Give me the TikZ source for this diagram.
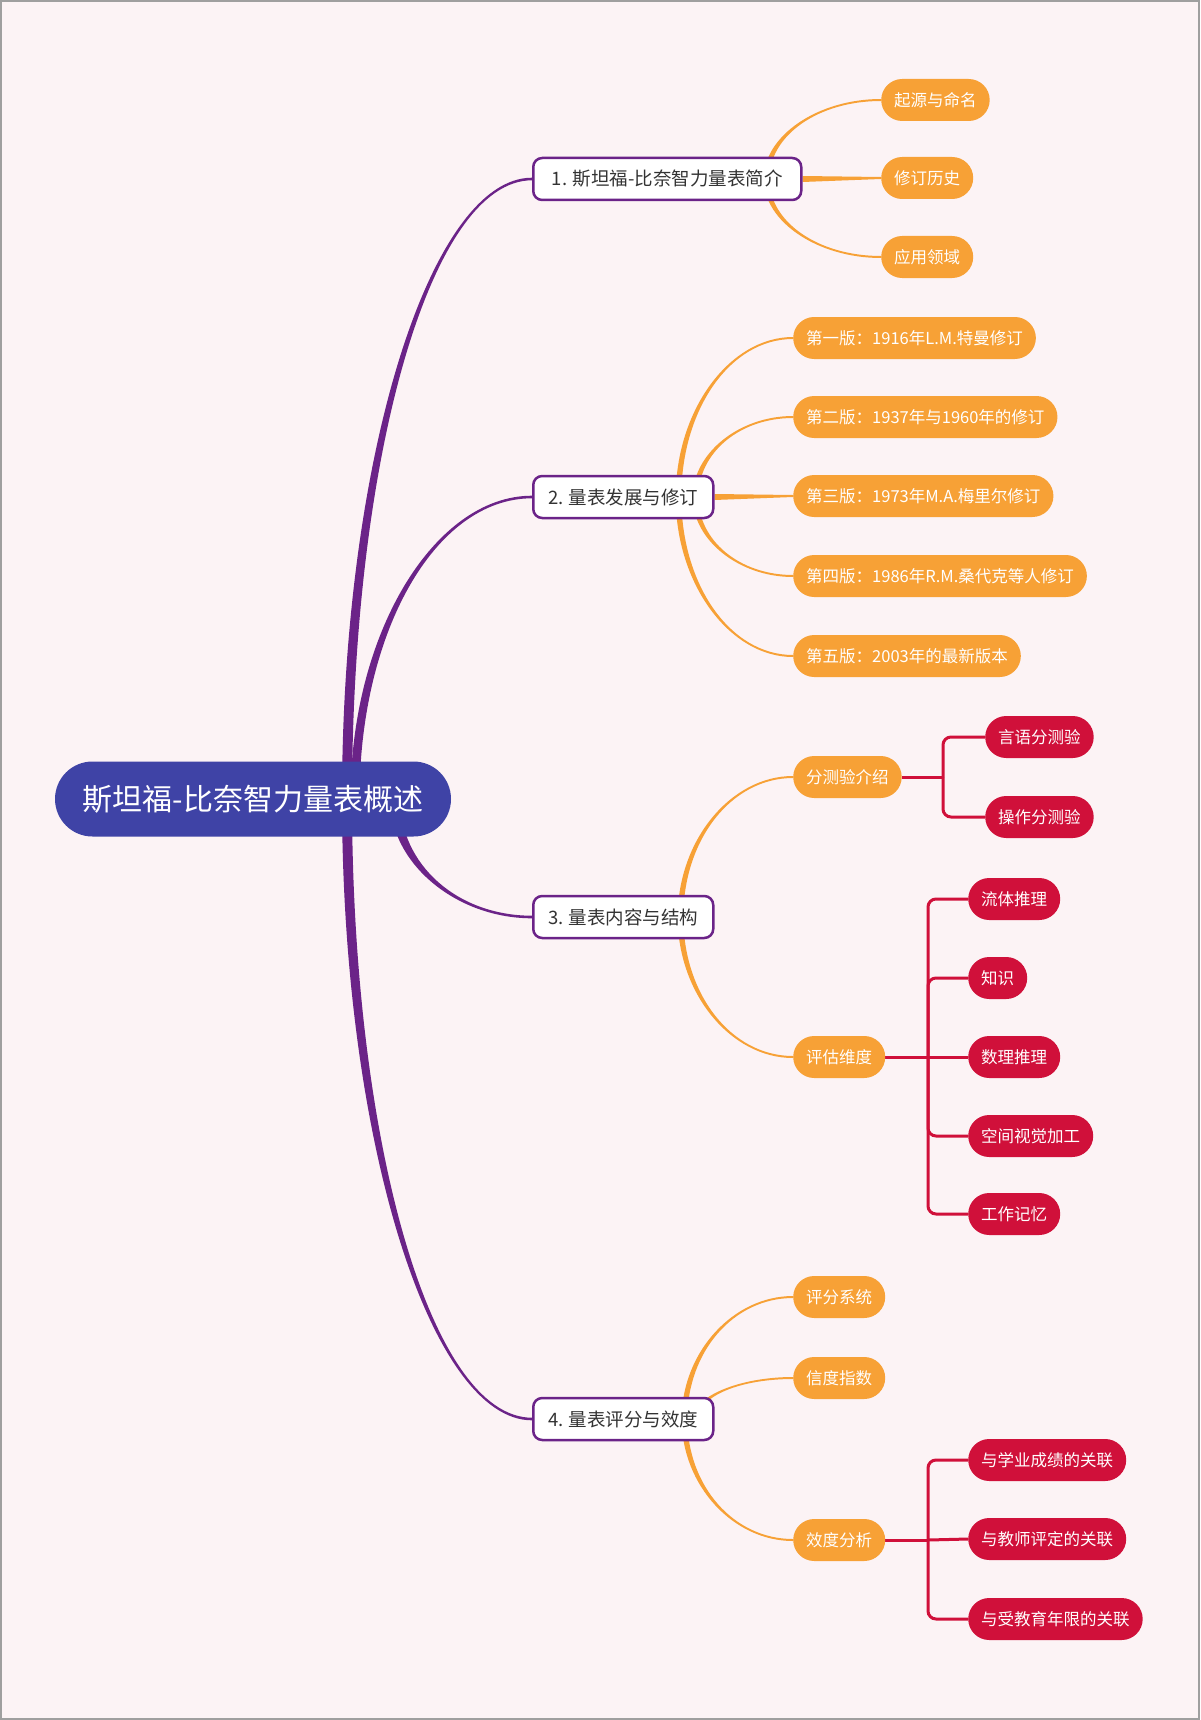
\documentclass[tikz,border=0pt]{standalone}
\usepackage{fontspec}
\setmainfont{Noto Sans CJK SC}
\usetikzlibrary{calc}
\definecolor{bgpink}{HTML}{FCF3F5}
\definecolor{rootblue}{HTML}{3F43A6}
\definecolor{mpurple}{HTML}{6B2388}
\definecolor{morange}{HTML}{F7A136}
\definecolor{mred}{HTML}{D0103A}
\definecolor{dtext}{HTML}{333333}
\pgfdeclarelayer{pagebg}
\pgfdeclarelayer{links}
\pgfsetlayers{pagebg,links,main}

% tapered quarter-ellipse connector: color, start, end, start half-width, signed end half-width
\newcommand{\tapercurve}[5]{%
  \coordinate (tcA) at ($(#2)!0.55!(#2 |- #3)$);
  \coordinate (tcB) at ($(#3)!0.55!(#2 |- #3)$);
  \fill[#1] ($(#2)+(-#4,0)$) .. controls ($(tcA)+(-#4,0)$) and ($(tcB)+(0,{0-(#5)})$) .. ($(#3)+(0,{0-(#5)})$)
    -- ($(#3)+(0,{#5})$) .. controls ($(tcB)+(0,{#5})$) and ($(tcA)+(#4,0)$) .. ($(#2)+(#4,0)$) -- cycle;}
% tapered straight connector
\newcommand{\taperline}[5]{%
  \fill[#1] ($(#2)+(0,-#4)$) -- ($(#3)+(0,-#5)$) -- ($(#3)+(0,#5)$) -- ($(#2)+(0,#4)$) -- cycle;}

\begin{document}
\begin{tikzpicture}[x=1pt,y=-1pt,
  rootnode/.style={fill=rootblue, text=white, minimum height=75pt, minimum width=396pt,
    rounded corners=37.5pt, inner sep=0pt, font=\fontsize{30pt}{36pt}\selectfont},
  l1node/.style={fill=white, draw=mpurple, line width=2.5pt, text=dtext, rounded corners=9pt,
    minimum height=42pt, inner xsep=12pt, inner ysep=0pt, anchor=west,
    font=\fontsize{18.5pt}{22pt}\selectfont},
  l2node/.style={fill=morange, text=white, rounded corners=21pt, minimum height=42pt,
    inner xsep=13pt, inner ysep=0pt, anchor=west, font=\fontsize{16.5pt}{20pt}\selectfont},
  l3node/.style={fill=mred, text=white, rounded corners=21pt, minimum height=42pt,
    inner xsep=13pt, inner ysep=0pt, anchor=west, font=\fontsize{16.5pt}{20pt}\selectfont},
  redline/.style={draw=mred, line width=3pt},
  redbend/.style={draw=mred, line width=3pt, rounded corners=8pt}]
\useasboundingbox (0,0) rectangle (1200,1720);
\begin{pgfonlayer}{pagebg}
  \fill[bgpink] (0,0) rectangle (1200,1720);
  \draw[gray!75, line width=2pt] (1,1) rectangle (1199,1719);
\end{pgfonlayer}

% root
\node[rootnode] (root) at (253,799) {斯坦福-比奈智力量表概述};

% level 1
\node[l1node, minimum width=268pt] (n1) at (532,179) {1. 斯坦福-比奈智力量表简介};
\node[l1node, minimum width=180pt] (n2) at (532,497) {2. 量表发展与修订};
\node[l1node, minimum width=180pt] (n3) at (532,917) {3. 量表内容与结构};
\node[l1node, minimum width=180pt] (n4) at (532,1419) {4. 量表评分与效度};

% level 2
\node[l2node] (o11) at (881,100) {起源与命名};
\node[l2node] (o12) at (881,178) {修订历史};
\node[l2node] (o13) at (881,257) {应用领域};

\node[l2node] (o21) at (793,338) {第一版：1916年L.M.特曼修订};
\node[l2node] (o22) at (793,417) {第二版：1937年与1960年的修订};
\node[l2node] (o23) at (793,496) {第三版：1973年M.A.梅里尔修订};
\node[l2node] (o24) at (793,576) {第四版：1986年R.M.桑代克等人修订};
\node[l2node] (o25) at (793,656) {第五版：2003年的最新版本};

\node[l2node] (o31) at (793,777) {分测验介绍};
\node[l2node] (o32) at (793,1057) {评估维度};

\node[l2node] (o41) at (793,1297) {评分系统};
\node[l2node] (o42) at (793,1378) {信度指数};
\node[l2node] (o43) at (793,1540) {效度分析};

% level 3
\node[l3node] (r311) at (985,737) {言语分测验};
\node[l3node] (r312) at (985,817) {操作分测验};

\node[l3node] (r321) at (968,899) {流体推理};
\node[l3node] (r322) at (968,978) {知识};
\node[l3node] (r323) at (968,1057) {数理推理};
\node[l3node] (r324) at (968,1136) {空间视觉加工};
\node[l3node] (r325) at (968,1214) {工作记忆};

\node[l3node] (r431) at (968,1460) {与学业成绩的关联};
\node[l3node] (r432) at (968,1539) {与教师评定的关联};
\node[l3node] (r433) at (968,1619) {与受教育年限的关联};

% connectors
\begin{pgfonlayer}{links}
  % root to level 1
  \coordinate (s1) at ($(root.center)+(94,0)$);
  \coordinate (s2) at ($(root.center)+(102,0)$);
  \coordinate (s3) at ($(root.center)+(142,0)$);
  \coordinate (s4) at ($(root.center)+(94,0)$);
  \tapercurve{mpurple}{s1}{n1.west}{5}{1.3}
  \tapercurve{mpurple}{s2}{n2.west}{4.5}{1.3}
  \tapercurve{mpurple}{s3}{n3.west}{5}{-1.3}
  \tapercurve{mpurple}{s4}{n4.west}{5}{-1.3}

  % group 1
  \coordinate (q1o) at ($(n1.east)+(-36,0)$);
  \tapercurve{morange}{q1o}{o11.west}{2.8}{1}
  \taperline{morange}{n1.east}{o12.west}{3}{1}
  \tapercurve{morange}{q1o}{o13.west}{2.8}{-1}

  % group 2
  \coordinate (q2o) at ($(n2.east)+(-36,0)$);
  \coordinate (q2i) at ($(n2.east)+(-19,0)$);
  \tapercurve{morange}{q2o}{o21.west}{2.8}{1}
  \tapercurve{morange}{q2i}{o22.west}{2.8}{1}
  \taperline{morange}{n2.east}{o23.west}{3}{1}
  \tapercurve{morange}{q2i}{o24.west}{2.8}{-1}
  \tapercurve{morange}{q2o}{o25.west}{2.8}{-1}

  % group 3
  \coordinate (q3o) at ($(n3.east)+(-34,0)$);
  \tapercurve{morange}{q3o}{o31.west}{2.8}{1}
  \tapercurve{morange}{q3o}{o32.west}{2.8}{-1}

  % group 4
  \coordinate (q4o) at ($(n4.east)+(-30,0)$);
  \coordinate (q4i) at ($(n4.east)+(-19,0)$);
  \tapercurve{morange}{q4o}{o41.west}{2.8}{1}
  \tapercurve{morange}{q4i}{o42.west}{2.8}{1}
  \tapercurve{morange}{q4o}{o43.west}{2.8}{-1}

  % red elbows
  \coordinate (j31) at ($(o31.east -| r311.west)+(-42,0)$);
  \draw[redline] (o31.east) -- (j31);
  \draw[redbend] (j31) |- (r311.west);
  \draw[redbend] (j31) |- (r312.west);

  \coordinate (j32) at ($(o32.east -| r321.west)+(-40,0)$);
  \draw[redline] (o32.east) -- (j32);
  \draw[redbend] (j32) |- (r321.west);
  \draw[redbend] (j32) |- (r322.west);
  \draw[redline] (j32) -- (r323.west);
  \draw[redbend] (j32) |- (r324.west);
  \draw[redbend] (j32) |- (r325.west);

  \coordinate (j43) at ($(o43.east -| r431.west)+(-40,0)$);
  \draw[redline] (o43.east) -- (j43);
  \draw[redbend] (j43) |- (r431.west);
  \draw[redline] (j43) -- (r432.west);
  \draw[redbend] (j43) |- (r433.west);
\end{pgfonlayer}
\end{tikzpicture}
\end{document}
